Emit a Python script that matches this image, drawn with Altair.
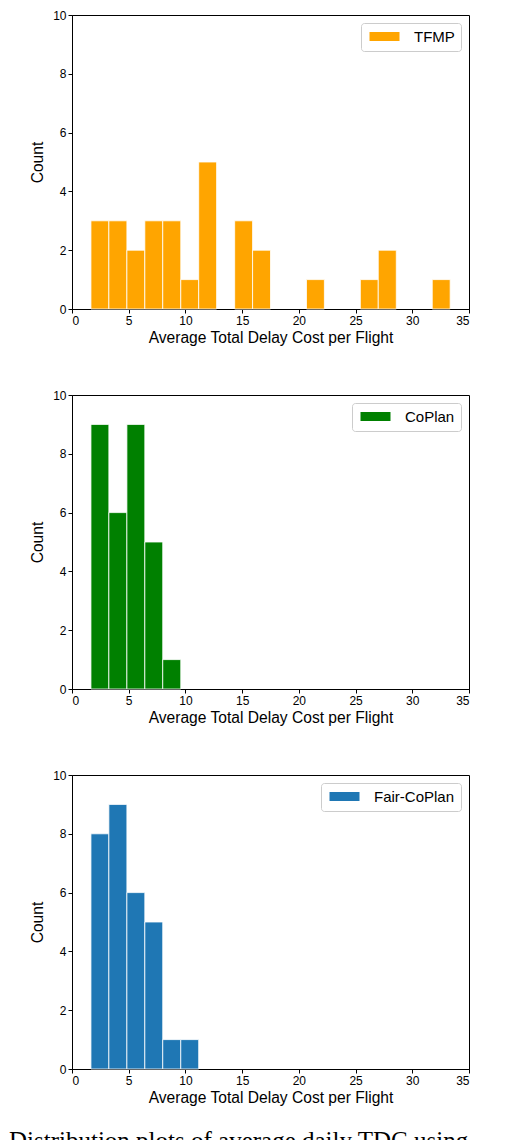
import altair as alt
import pandas as pd

# Histogram bin edges (shared by all three panels)
bin_edges = [1.67, 3.25, 4.84, 6.42, 8.00, 9.59, 11.17, 12.75, 14.34, 15.92,
             17.50, 19.09, 20.67, 22.25, 23.84, 25.42, 27.00, 28.59, 30.17,
             31.76, 33.34]

tfmp_counts = [3, 3, 2, 3, 3, 1, 5, 0, 3, 2, 0, 0, 1, 0, 0, 1, 2, 0, 0, 1]
coplan_counts = [9, 6, 9, 5, 1, 0, 0, 0, 0, 0, 0, 0, 0, 0, 0, 0, 0, 0, 0, 0]
fair_counts = [8, 9, 6, 5, 1, 1, 0, 0, 0, 0, 0, 0, 0, 0, 0, 0, 0, 0, 0, 0]

series_names = ["TFMP", "CoPlan", "Fair-CoPlan"]
series_colors = ["#ffa500", "#008000", "#1f77b4"]

x_ticks = [0, 5, 10, 15, 20, 25, 30, 35]
y_ticks = [0, 2, 4, 6, 8, 10]
x_title = "Average Total Delay Cost per Flight"
y_title = "Count"
caption = "Distribution plots of average daily TDC using TFMP, CoPlan and Fair-CoPlan."

FONT = "Liberation Sans"
W, H = 397, 294


def panel(name, color, counts, with_caption=False):
    df = pd.DataFrame({
        "start": bin_edges[:-1],
        "end": bin_edges[1:],
        "count": counts,
        "base": [0] * len(counts),
        "series": [name] * len(counts),
    })
    df = df[df["count"] > 0]
    bars = alt.Chart(df).mark_rect(stroke="white", strokeWidth=1, strokeOpacity=0.8).encode(
        x=alt.X("start:Q",
                scale=alt.Scale(domain=[0, 35], nice=False, zero=False),
                axis=alt.Axis(values=x_ticks, title=x_title, titlePadding=4)),
        x2="end:Q",
        y=alt.Y("count:Q",
                scale=alt.Scale(domain=[0, 10], nice=False),
                axis=alt.Axis(values=y_ticks, title=y_title, titlePadding=7)),
        y2="base:Q",
        color=alt.Color("series:N",
                        scale=alt.Scale(domain=[name], range=[color]),
                        legend=alt.Legend(
                            title=None, orient="top-right", offset=8, padding=6,
                            strokeColor="#cccccc", fillColor="white", cornerRadius=3,
                            labelFontSize=15, labelFont=FONT, labelColor="black",
                            symbolType="M-1,-0.9H5V0.9H-1Z", symbolSize=100,
                            symbolStrokeWidth=0, symbolOpacity=1, labelOffset=32,
                            labelLimit=300)),
    )
    layers = [bars]
    if with_caption:
        cap = alt.Chart(pd.DataFrame({"text": [caption]})).mark_text(
            align="left", baseline="alphabetic", font="Liberation Serif",
            fontSize=25, color="black", limit=489, ellipsis="",
        ).encode(text="text:N", x=alt.value(-63), y=alt.value(H + 80))
        layers.append(cap)
    return alt.layer(*layers).properties(width=W, height=H)


chart = alt.vconcat(
    panel(series_names[0], series_colors[0], tfmp_counts),
    panel(series_names[1], series_colors[1], coplan_counts),
    panel(series_names[2], series_colors[2], fair_counts, with_caption=True),
    spacing=86,
    bounds="flush",
).resolve_scale(color="independent").properties(
    padding={"left": 0, "top": 0, "right": 0, "bottom": 0}
).configure_axis(
    domainColor="black", tickColor="black", labelColor="black", titleColor="black",
    labelFont=FONT, titleFont=FONT, labelFontSize=12, titleFontSize=15.6,
    titleFontWeight="normal", tickSize=4, labelPadding=2, grid=False,
).configure_view(stroke="black", strokeWidth=1)

chart.save("out.html", embed_options={"renderer": "svg", "actions": False})
